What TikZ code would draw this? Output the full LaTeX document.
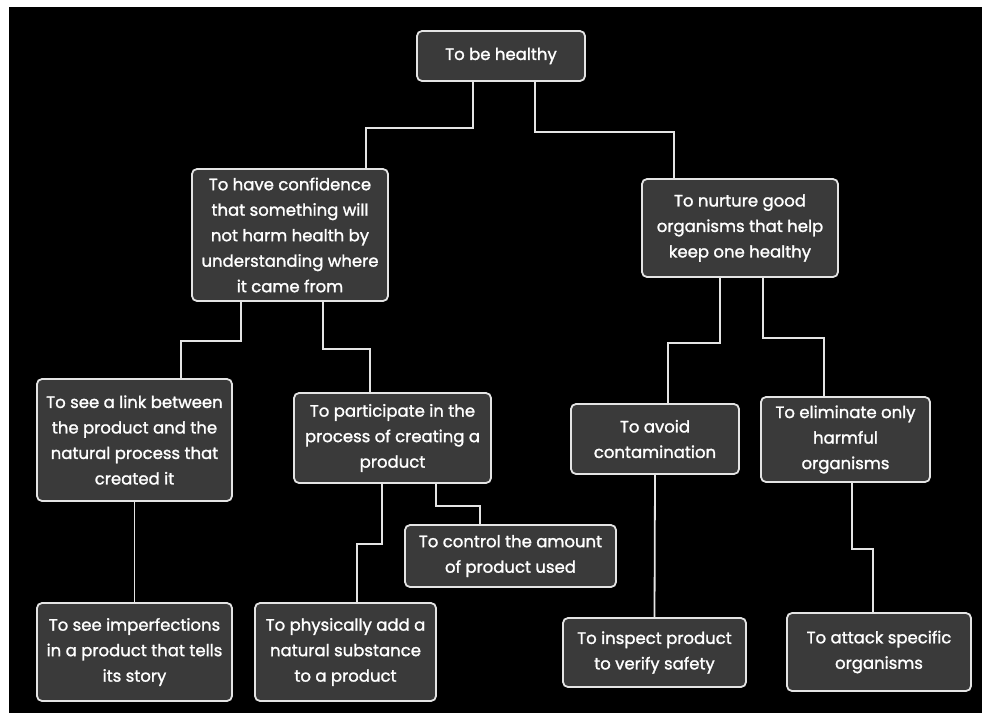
\documentclass[tikz,border=0pt]{standalone}
\usepackage{fontspec}
\setmainfont{Poppins}
\newfontfamily\goalfont{Poppins}[FakeBold=1.4]
\usetikzlibrary{positioning}
\definecolor{boxfill}{HTML}{3A3A3A}
\definecolor{edgewhite}{HTML}{E4E4E4}
\tikzset{
  goal/.style={draw=edgewhite, line width=1.8pt, fill=boxfill, rounded corners=5pt,
    text=white, align=center, inner sep=0pt, font=\goalfont\fontsize{16.5}{25.5}\selectfont},
  link/.style={draw=edgewhite, line width=1.8pt}
}

\begin{document}
\begin{tikzpicture}[x=1pt,y=-1pt]
\useasboundingbox (0,0) rectangle (982,713);
\fill[black] (9,7) rectangle (982,713);
\node[goal, minimum width=168, minimum height=50](top) at (501,56){To be healthy};
\node[goal, minimum width=196, minimum height=132](conf) at (290,235){To have confidence\\that something will\\not harm health by\\understanding where\\it came from};
\node[goal, minimum width=196, minimum height=98](nurt) at (740,228){To nurture good\\organisms that help\\keep one healthy};
\node[goal, minimum width=195, minimum height=122](see) at (134.5,440){To see a link between\\the product and the\\natural process that\\created it};
\node[goal, minimum width=197, minimum height=90](part) at (392.5,438){To participate in the\\process of creating a\\product};
\node[goal, minimum width=211, minimum height=62](ctrl) at (510.5,556){To control the amount\\of product used};
\node[goal, minimum width=168, minimum height=70](avoid) at (655,439){To avoid\\contamination};
\node[goal, minimum width=169, minimum height=85](elim) at (845.5,439.5){To eliminate only\\harmful\\organisms};
\node[goal, minimum width=195, minimum height=98](imp) at (134.5,652){To see imperfections\\in a product that tells\\its story};
\node[goal, minimum width=181, minimum height=98](phys) at (345.5,652){To physically add a\\natural substance\\to a product};
\node[goal, minimum width=183, minimum height=69](insp) at (654.5,652.5){To inspect product\\to verify safety};
\node[goal, minimum width=184, minimum height=78](att) at (879,652){To attack specific\\organisms};
\draw[link] ([xshift=-28pt]top.south) -- ++(0,46) -| ([xshift=76pt]conf.north);
\draw[link] ([xshift=34pt]top.south) -- ++(0,50) -| ([xshift=-66pt]nurt.north);
\draw[link] ([xshift=-49pt]conf.south) -- ++(0,39) -| ([xshift=46.5pt]see.north);
\draw[link] ([xshift=33pt]conf.south) -- ++(0,47) -| ([xshift=-22.5pt]part.north);
\draw[link] (see.south) -- (imp.north);
\draw[link] ([xshift=-10.5pt]part.south) -- ++(0,60) -| ([xshift=11.5pt]phys.north);
\draw[link] ([xshift=43.5pt]part.south) -- ++(0,22) -| ([xshift=-30.5pt]ctrl.north);
\draw[link] ([xshift=-20pt]nurt.south) -- ++(0,65) -| ([xshift=13pt]avoid.north);
\draw[link] ([xshift=23pt]nurt.south) -- ++(0,60) -| ([xshift=-21.5pt]elim.north);
\draw[link] (avoid.south) -- (insp.north);
\draw[link] ([xshift=6.5pt]elim.south) -- ++(0,66) -| ([xshift=-6pt]att.north);
\end{tikzpicture}
\end{document}
